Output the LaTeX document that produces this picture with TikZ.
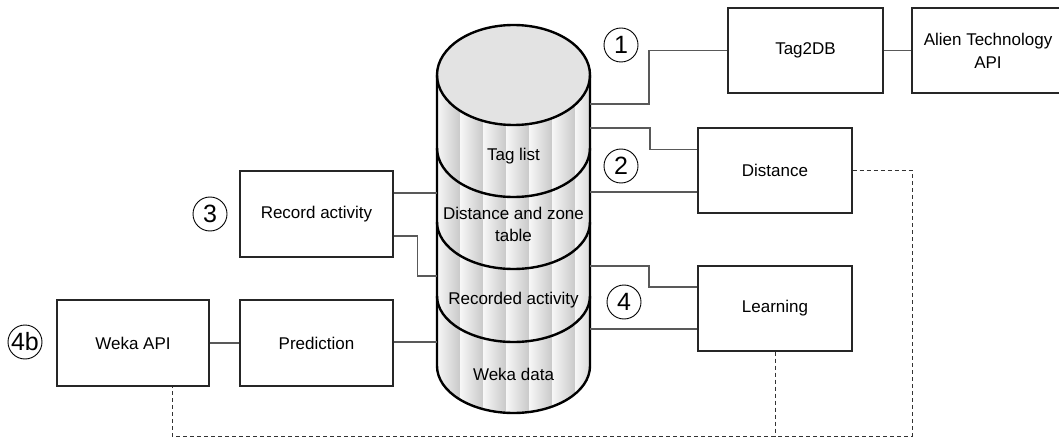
\documentclass[tikz,border=0pt]{standalone}
\usepackage{fontspec}
\setmainfont{Liberation Sans}
\usetikzlibrary{calc}
\begin{document}
\begin{tikzpicture}[x=1pt,y=-1pt,
  box/.style={draw=black!85,line width=1.1pt,inner sep=0pt,align=center,
    font=\fontsize{17}{23}\selectfont},
  conn/.style={draw=black!65,line width=1.2pt},
  dconn/.style={draw=black!80,line width=1pt,dash pattern=on 4pt off 3pt},
  cyl/.style={draw=black,line width=2.4pt},
  num/.style={draw=black,line width=0.9pt,circle,minimum size=34pt,inner sep=0pt,
    font=\fontsize{25}{25}\selectfont},
  dblabel/.style={inner sep=0pt,align=center,font=\fontsize{17}{22}\selectfont}
]
\useasboundingbox (0,0) rectangle (1059,438);

% ---------- database cylinder ----------
\begin{scope}
  \clip (437,75) -- (437,366) arc[start angle=180,end angle=360,x radius=76.5pt,y radius=47pt] -- (590,75) -- cycle;
  \fill[gray!25] (430,20) rectangle (600,420);
  \foreach \i in {0,...,6}
    \shade[left color=gray!6,right color=gray!42] ({437+23*\i},20) rectangle ({460+23*\i},420);
\end{scope}
\fill[gray!22] (513.5,75) ellipse[x radius=76.5pt,y radius=50pt];
\draw[cyl] (513.5,75) ellipse[x radius=76.5pt,y radius=50pt];
\draw[cyl] (437,75) -- (437,366) arc[start angle=180,end angle=360,x radius=76.5pt,y radius=47pt] -- (590,75);
\foreach \c/\r in {148/49,222/47,296/46}
  \draw[cyl] (437,\c) arc[start angle=180,end angle=360,x radius=76.5pt,y radius=\r pt];

\node[dblabel] (taglist) at (513.5,156) {Tag list};
\node[dblabel] (dzt) at (513.5,224) {Distance and zone\\table};
\node[dblabel] (recact) at (513.5,300) {Recorded activity};
\node[dblabel] (wekadata) at (513.5,374) {Weka data};

% connection points on the cylinder sides
\coordinate (r1) at (590,104);
\coordinate (r2) at (590,128);
\coordinate (r3) at (590,192);
\coordinate (r4) at (590,266);
\coordinate (r5) at (590,329);
\coordinate (l1) at (437,193);
\coordinate (l2) at (437,276);
\coordinate (l3) at (437,342);

% ---------- boxes ----------
\node[box,minimum width=155pt,minimum height=85pt] (tag2db) at (805.5,50.5) {Tag2DB};
\node[box,minimum width=152pt,minimum height=85pt] (alien) at (988,50.5) {Alien Technology\\API};
\node[box,minimum width=154pt,minimum height=85pt] (distance) at (775,170.5) {Distance};
\node[box,minimum width=153pt,minimum height=86pt] (record) at (316.5,214) {Record activity};
\node[box,minimum width=152pt,minimum height=86pt] (weka) at (133,343) {Weka API};
\node[box,minimum width=153pt,minimum height=86pt] (predict) at (316.5,343) {Prediction};
\node[box,minimum width=154pt,minimum height=85pt] (learning) at (775,308.5) {Learning};

% ---------- numbers ----------
\node[num] (n1) at (621,45) {1};
\node[num] (n2) at (621,166) {2};
\node[num] (n3) at (210,214) {3};
\node[num] (n4) at (624,302) {4};
\node[num] (n4b) at (25,342) {4b};

% ---------- connectors ----------
\draw[conn] (r1) -- ++(59,0) |- (tag2db.west);
\draw[conn] (tag2db.east) -- (alien.west);
\draw[conn] (r2) -- ++(60,0) |- ($(distance.west)+(0,-21)$);
\draw[conn] (r3) -- (r3 -| distance.west);
\draw[conn] (l1 -| record.east) -- (l1);
\draw[conn] ($(record.east)+(0,22)$) -- ++(24,0) |- (l2);
\draw[conn] (r4) -- ++(59,0) |- ($(learning.west)+(0,-21.5)$);
\draw[conn] (r5) -- (r5 -| learning.west);
\draw[conn] (l3 -| predict.east) -- (l3);
\draw[conn] (weka.east) -- (predict.west);

% dashed feedback
\coordinate (dR) at (912,436);
\coordinate (dL) at (172,436);
\draw[dconn] (distance.east) -- (distance.east -| dR) -- (dR) -- (dL) -- (dL |- weka.south);
\draw[dconn] (learning.south) -- (learning.south |- dR);
\end{tikzpicture}
\end{document}
